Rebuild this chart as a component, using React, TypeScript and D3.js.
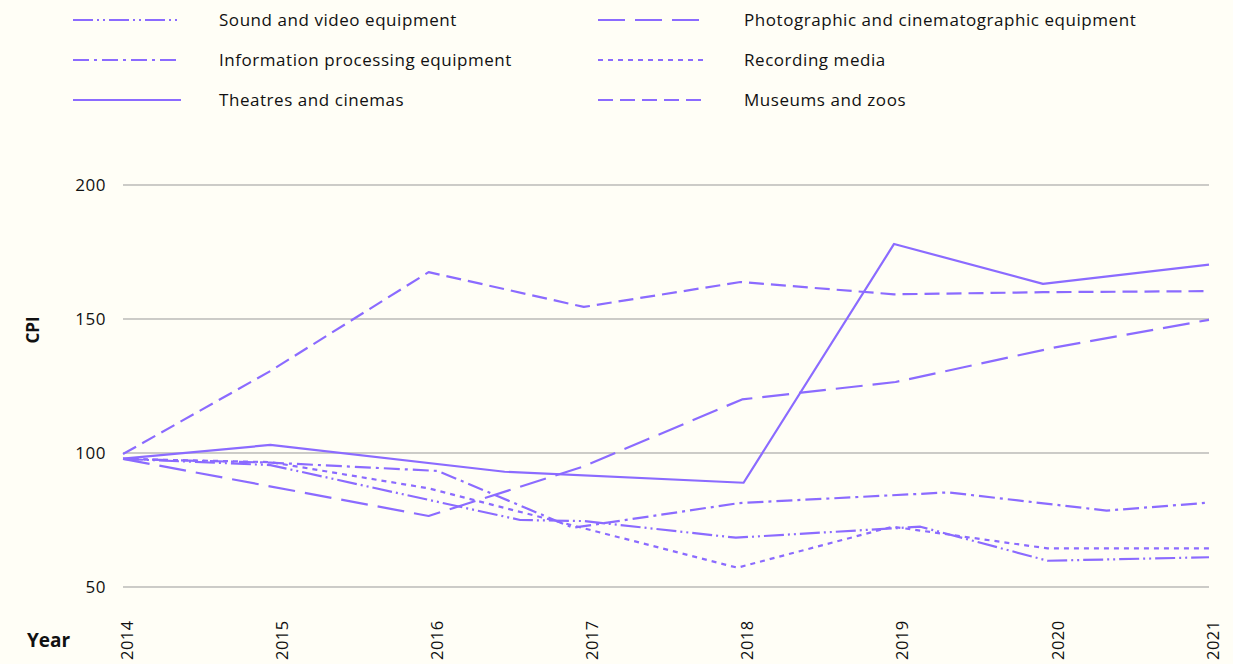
import React from "react";
import * as d3 from "d3";

const W = 1233;
const H = 664;

// Series data: fractional-year positions and CPI values
const soundYears = [2014, 2014.95, 2016.56, 2016.97, 2017.95, 2019.14, 2019.96, 2021];
const soundValues = [97.8, 95.5, 75.0, 74.6, 68.4, 72.5, 59.8, 61.1];

const photoYears = [2014, 2015.97, 2016.96, 2017.99, 2018.98, 2020.0, 2021];
const photoValues = [97.8, 76.5, 94.8, 120.0, 126.5, 139.3, 149.7];

const infoYears = [2014, 2014.95, 2016.03, 2016.9, 2017.97, 2019.32, 2020.34, 2021];
const infoValues = [97.8, 96.4, 93.3, 72.1, 81.3, 85.3, 78.5, 81.5];

const recordYears = [2014, 2014.95, 2015.97, 2017.96, 2018.96, 2019.96, 2021];
const recordValues = [97.8, 96.6, 86.8, 57.2, 72.5, 64.4, 64.4];

const theatreYears = [2014, 2014.95, 2016.46, 2018.0, 2018.97, 2019.93, 2021];
const theatreValues = [97.9, 103.0, 93.0, 88.9, 178.0, 163.1, 170.3];

const museumYears = [2014, 2014.95, 2015.97, 2016.97, 2017.98, 2018.97, 2019.93, 2021];
const museumValues = [99.6, 130.6, 167.5, 154.5, 163.8, 159.2, 160.0, 160.4];

const yTicks = [50, 100, 150, 200];
const xTicks = [2014, 2015, 2016, 2017, 2018, 2019, 2020, 2021];

const seriesNames = [
  "Sound and video equipment",
  "Photographic and cinematographic equipment",
  "Information processing equipment",
  "Recording media",
  "Theatres and cinemas",
  "Museums and zoos",
];

const COLOR = "#8b6bff";
const FONT = "'Open Sans', Lato, sans-serif";

const dashes = ["20 4 2 4 2 4", "27 10", "16 5 3 5", "5 5", "", "15 7"];

export default function App() {
  const x = d3.scaleLinear().domain([2014, 2021]).range([123, 1209]);
  const y = d3.scaleLinear().domain([50, 200]).range([587, 185]);

  const data: [number[], number[]][] = [
    [soundYears, soundValues],
    [photoYears, photoValues],
    [infoYears, infoValues],
    [recordYears, recordValues],
    [theatreYears, theatreValues],
    [museumYears, museumValues],
  ];

  const line = d3
    .line<[number, number]>()
    .x((d) => x(d[0]))
    .y((d) => y(d[1]));

  return (
    <div style={{ position: "fixed", left: 0, top: 0 }}>
      <svg width={W} height={H} style={{ display: "block", background: "#fffef6" }}>
        {/* legend */}
        {seriesNames.map((name, i) => {
          const col = i % 2;
          const row = Math.floor(i / 2);
          const lx = col === 0 ? 73 : 598;
          const ly = 20 + row * 40;
          return (
            <g key={name}>
              <line
                x1={lx}
                x2={lx + 108}
                y1={ly}
                y2={ly}
                stroke={COLOR}
                strokeWidth={2.2}
                strokeDasharray={dashes[i] || undefined}
              />
              <text
                x={lx + 146}
                y={ly}
                dy="0.35em"
                fontFamily={FONT}
                fontSize={17}
                letterSpacing={0.55}
                fill="#111"
              >
                {name}
              </text>
            </g>
          );
        })}

        {/* grid + y labels */}
        {yTicks.map((t) => (
          <g key={t}>
            <line x1={123} x2={1209} y1={y(t)} y2={y(t)} stroke="#999" strokeWidth={1} />
            <text
              x={106}
              y={y(t)}
              dy="0.35em"
              textAnchor="end"
              fontFamily={FONT}
              fontSize={17}
              letterSpacing={0.5}
              fill="#111"
            >
              {t}
            </text>
          </g>
        ))}

        {/* x labels */}
        {xTicks.map((t) => (
          <text
            key={t}
            transform={`translate(${x(t) + 4},660) rotate(-90)`}
            dy="0.35em"
            textAnchor="start"
            fontFamily={FONT}
            fontSize={16.5}
            letterSpacing={0.5}
            fill="#111"
          >
            {t}
          </text>
        ))}

        <text
          transform="translate(33,330) rotate(-90)"
          dy="0.35em"
          textAnchor="middle"
          fontFamily={FONT}
          fontWeight="bold"
          fontSize={17}
          fill="#111"
        >
          CPI
        </text>
        <text x={27} y={647} fontFamily={FONT} fontWeight="bold" fontSize={19} fill="#111">
          Year
        </text>

        {/* lines */}
        {data.map(([ys, vs], i) => (
          <path
            key={i}
            d={line(ys.map((yr, j) => [yr, vs[j]] as [number, number])) || ""}
            fill="none"
            stroke={COLOR}
            strokeWidth={2.2}
            strokeDasharray={dashes[i] || undefined}
            strokeLinejoin="round"
          />
        ))}
      </svg>
    </div>
  );
}
